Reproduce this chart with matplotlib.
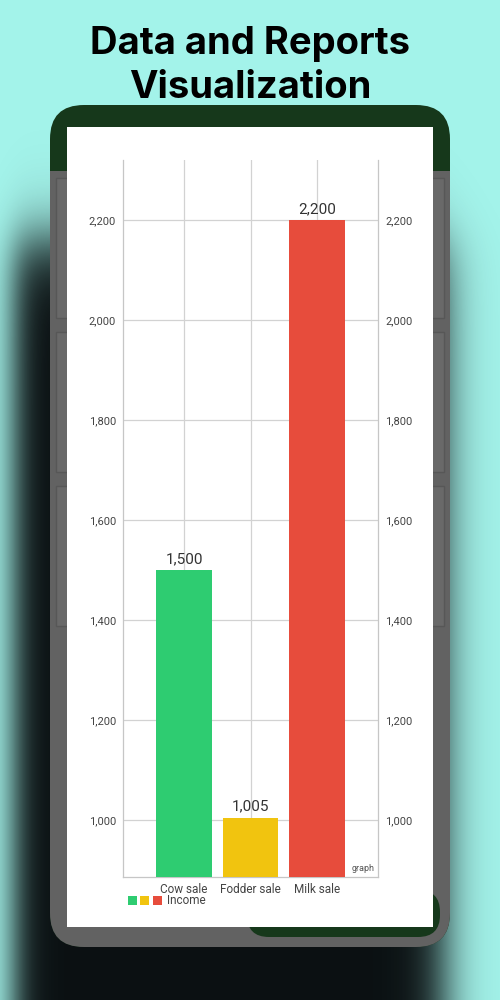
import numpy as np
import matplotlib
matplotlib.use("Agg")
import matplotlib.pyplot as plt
from matplotlib.patches import FancyBboxPatch, Rectangle

# chart data
categories = ["Cow sale", "Fodder sale", "Milk sale"]
income = [1500, 1005, 2200]
bar_colors = ["#2ecc71", "#f1c40f", "#e74c3c"]
y_ticks = [1000, 1200, 1400, 1600, 1800, 2000, 2200]
series_name = "Income"
title_lines = ["Data and Reports", "Visualization"]

BG = "#a3f3ea"
FRAME_GREEN = "#16381b"
FRAME_GREY = "#626262"
GRID = "#d2d2d2"
TXT = "#444444"

plt.rcParams["font.family"] = ["Roboto", "DejaVu Sans"]

fig = plt.figure(figsize=(5, 10), dpi=100)
fig.patch.set_facecolor(BG)

# decoration layer in pixel coords (y down)
deco = fig.add_axes([0, 0, 1, 1])
deco.set_axis_off()

# soft shadow of the phone
xx, yy = np.meshgrid(np.arange(500) + 0.5, np.arange(1000) + 0.5)
def soft(v, s):
    return 1.0 / (1.0 + np.exp(-v / s))
alpha = soft(xx - 14, 9) * soft(445 - xx, 13) * soft(yy - 240, 20)
shadow = np.zeros((1000, 500, 4))
shadow[..., 0] = 0.04
shadow[..., 1] = 0.06
shadow[..., 2] = 0.07
shadow[..., 3] = np.clip(alpha, 0, 1)
deco.imshow(shadow, extent=(0, 500, 1000, 0), aspect="auto", zorder=1)

# phone body
phone = FancyBboxPatch((50, 105), 400, 842, boxstyle="round,pad=0,rounding_size=34",
                       fc=FRAME_GREEN, ec="none", zorder=2)
deco.add_patch(phone)
grey = Rectangle((40, 171), 420, 790, fc=FRAME_GREY, ec="none", zorder=3)
grey.set_clip_path(phone)
deco.add_patch(grey)

# cards behind the white panel
for top, h in [(178, 140), (332, 140), (486, 140)]:
    deco.add_patch(Rectangle((56, top), 388, h, fc="#696969", ec="#575757", lw=1, zorder=4))

# bottom button behind the panel
deco.add_patch(FancyBboxPatch((247, 890), 193, 47, boxstyle="round,pad=0,rounding_size=22",
                              fc=FRAME_GREEN, ec="none", zorder=5))

# white panel
deco.add_patch(Rectangle((67, 127), 366, 800, fc="white", ec="none", zorder=6))

# legend squares + label
for i, c in enumerate(bar_colors):
    deco.add_patch(Rectangle((128 + 12.3 * i, 896), 9, 9, fc=c, ec="none", zorder=7))
deco.text(167, 901, series_name, fontsize=8.5, color=TXT, va="center", ha="left", zorder=7)

# title
deco.text(250, 54, title_lines[0], fontsize=27.5, fontweight="bold", family="Inter",
          ha="center", va="baseline", color="black")
deco.text(250, 98, title_lines[1], fontsize=27.5, fontweight="bold", family="Inter",
          ha="center", va="baseline", color="black")

deco.set_xlim(0, 500)
deco.set_ylim(1000, 0)

# chart
ax = fig.add_axes([123 / 500, (1000 - 877) / 1000, 255 / 500, 717 / 1000])
ax.set_facecolor("none")
x = np.arange(len(categories))
bars = ax.bar(x, income, width=0.84, color=bar_colors, zorder=3)
ax.bar_label(bars, labels=[f"{v:,}" for v in income], padding=3, fontsize=11, color="#333333")

ax.set_xlim(-0.92, 2.92)
ax.set_ylim(886, 2320)
ax.set_yticks(y_ticks)
ax.set_yticklabels([f"{v:,}" for v in y_ticks])
ax.set_xticks(x)
ax.set_xticklabels(categories)
ax.grid(True, color=GRID, lw=0.9, zorder=0)
ax.tick_params(axis="y", length=0, labelsize=8, labelcolor=TXT, labelright=True, pad=5)
ax.tick_params(axis="x", length=0, labelsize=8.5, labelcolor=TXT, pad=4)
for s in ["left", "right", "bottom"]:
    ax.spines[s].set_color("#c6c6c6")
    ax.spines[s].set_linewidth(0.9)
ax.spines["top"].set_visible(False)
ax.text(0.988, 0.005, "graph", transform=ax.transAxes, fontsize=6.5, color="#555555",
        ha="right", va="bottom")

fig.savefig("out.png", dpi=100, facecolor=fig.get_facecolor())
